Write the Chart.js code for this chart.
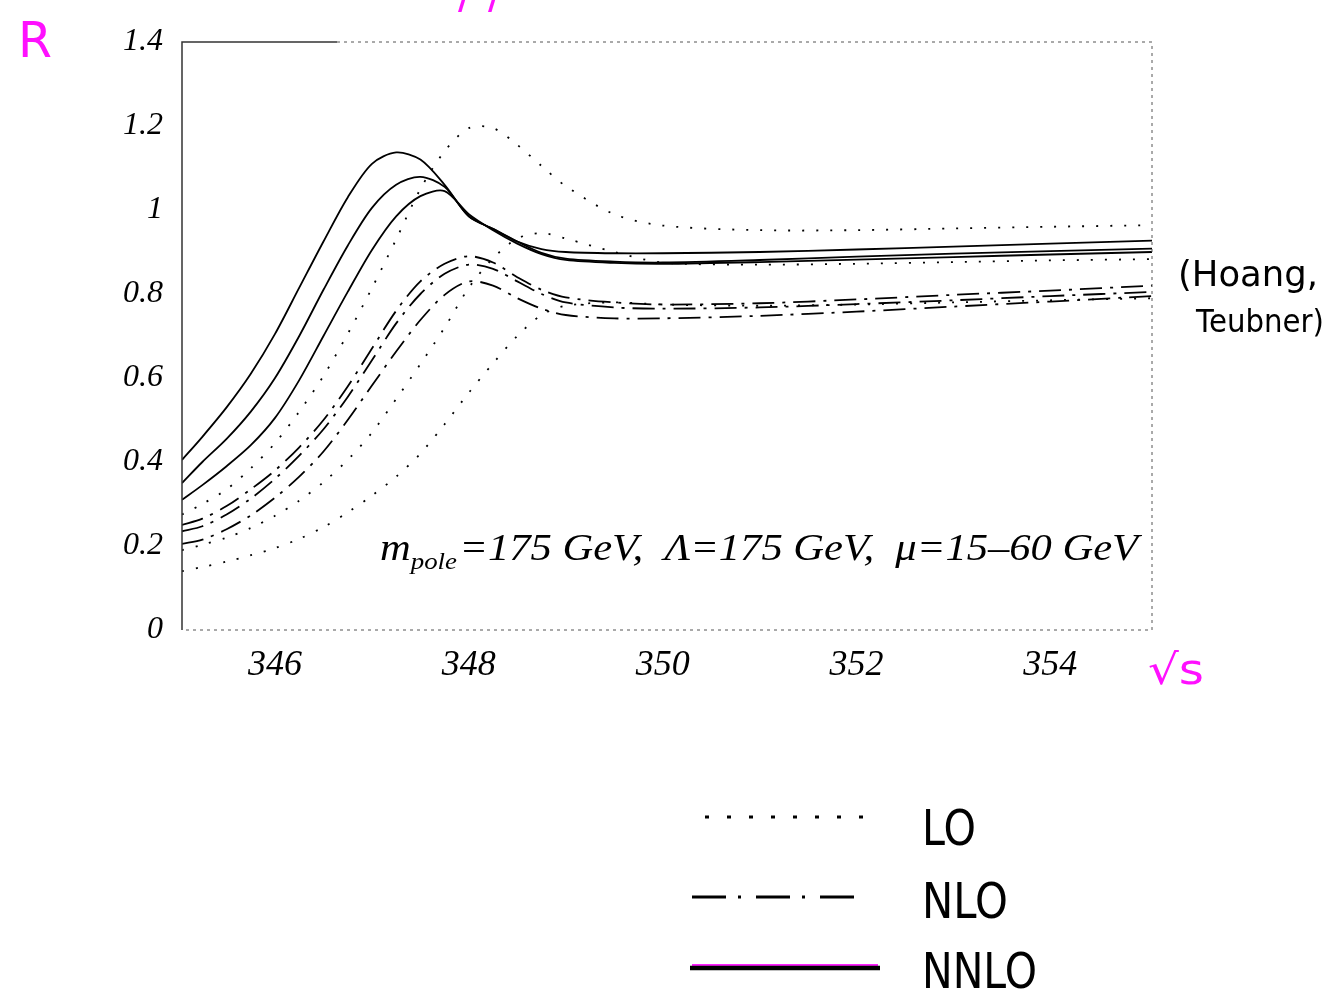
<!DOCTYPE html>
<html><head><meta charset="utf-8">
<script src="https://cdn.jsdelivr.net/npm/chart.js@4.4.0/dist/chart.umd.min.js"></script>
<style>html,body{margin:0;padding:0;background:#fff;overflow:hidden}</style>
</head><body>
<canvas id="c" width="1340" height="991"></canvas>
<script>
// ---- data ----
const energies = [345.04,345.25,345.5,345.75,346,346.25,346.5,346.75,347,347.25,347.5,347.75,348,348.25,348.5,348.75,349,349.5,350,351,352,353,354,355.05];
const nnloA = [0.405,0.46,0.53,0.61,0.705,0.815,0.925,1.03,1.11,1.137,1.12,1.06,0.985,0.955,0.925,0.907,0.90,0.897,0.897,0.900,0.906,0.913,0.920,0.927];
const nnloB = [0.35,0.40,0.455,0.52,0.60,0.70,0.81,0.915,1.005,1.06,1.079,1.055,0.985,0.955,0.925,0.898,0.884,0.877,0.875,0.881,0.889,0.896,0.902,0.908];
const nnloC = [0.31,0.345,0.39,0.44,0.505,0.595,0.70,0.805,0.905,0.985,1.033,1.045,0.99,0.952,0.92,0.895,0.881,0.874,0.872,0.876,0.882,0.888,0.894,0.90];
const nloA = [0.25,0.265,0.295,0.335,0.38,0.435,0.50,0.58,0.67,0.76,0.83,0.872,0.89,0.875,0.84,0.81,0.792,0.78,0.775,0.778,0.787,0.798,0.808,0.82];
const nloB = [0.235,0.247,0.275,0.313,0.36,0.415,0.478,0.555,0.642,0.73,0.80,0.848,0.87,0.86,0.83,0.80,0.78,0.768,0.765,0.768,0.776,0.785,0.795,0.805];
const nloC = [0.205,0.215,0.24,0.273,0.315,0.365,0.425,0.50,0.582,0.663,0.738,0.798,0.83,0.82,0.79,0.765,0.75,0.742,0.742,0.748,0.758,0.77,0.782,0.795];
const loA = [0.275,0.30,0.335,0.385,0.445,0.52,0.605,0.705,0.814,0.93,1.05,1.14,1.195,1.195,1.155,1.105,1.057,0.99,0.963,0.952,0.952,0.956,0.96,0.964];
const loB = [0.19,0.203,0.22,0.243,0.272,0.308,0.352,0.405,0.47,0.55,0.633,0.72,0.815,0.885,0.932,0.945,0.932,0.90,0.875,0.87,0.872,0.876,0.88,0.883];
const loC = [0.14,0.15,0.163,0.178,0.195,0.217,0.245,0.28,0.32,0.365,0.42,0.49,0.565,0.635,0.70,0.75,0.772,0.78,0.775,0.772,0.775,0.78,0.785,0.79];
const xTicks = [346,348,350,352,354];
const yTicks = [0,0.2,0.4,0.6,0.8,1,1.2,1.4];
const legendLabels = ['LO','NLO','NNLO'];
const noteText = ['m','pole','=175 GeV,  \u039B=175 GeV,  \u03BC=15\u201360 GeV'];

// ---- styles ----
const styles = {
  LO:   {borderDash:[2,12], borderWidth:1.8},
  NLO:  {borderDash:[22,8,3,8], borderWidth:1.8},
  NNLO: {borderDash:[], borderWidth:1.8}
};
function series(vals, order){
  return Object.assign({
    data: energies.map((e,i)=>({x:e,y:vals[i]})),
    borderColor:'#000', backgroundColor:'#000',
    pointRadius:0, fill:false, tension:0.3
  }, styles[order]);
}
const datasets = [
  series(loA,'LO'), series(loB,'LO'), series(loC,'LO'),
  series(nloA,'NLO'), series(nloB,'NLO'), series(nloC,'NLO'),
  series(nnloA,'NNLO'), series(nnloB,'NNLO'), series(nnloC,'NNLO')
];

const tickFont = {family:'"Liberation Serif", serif', style:'italic', size:32};

function fitText(ctx, txt, x, y, w){
  const m = ctx.measureText(txt).width;
  ctx.save(); ctx.translate(x, y); ctx.scale(w/m, 1); ctx.fillText(txt, 0, 0); ctx.restore();
}

const decor = {
  id:'decor',
  afterDraw(chart){
    const ctx = chart.ctx, a = chart.chartArea;
    ctx.save();
    // frame
    ctx.strokeStyle = '#333'; ctx.lineWidth = 1.5; ctx.setLineDash([]);
    ctx.beginPath(); ctx.moveTo(a.left, a.bottom); ctx.lineTo(a.left, a.top); ctx.lineTo(a.left+155, a.top); ctx.stroke();
    ctx.strokeStyle = '#555'; ctx.lineWidth = 1; ctx.setLineDash([3,4]);
    ctx.beginPath(); ctx.moveTo(a.left+155, a.top); ctx.lineTo(a.right, a.top); ctx.lineTo(a.right, a.bottom); ctx.lineTo(a.left, a.bottom); ctx.stroke();
    ctx.setLineDash([]);

    // note text
    ctx.fillStyle = '#000';
    const big = 'italic 38px "Liberation Serif", serif';
    const small = 'italic 24px "Liberation Serif", serif';
    ctx.font = big; const w1 = ctx.measureText(noteText[0]).width;
    ctx.font = small; const w2 = ctx.measureText(noteText[1]).width;
    ctx.font = big; const w3 = ctx.measureText(noteText[2]).width;
    const total = w1 + w2 + 2 + w3, target = 758, s = target/total;
    ctx.save(); ctx.translate(380, 560); ctx.scale(s, 1);
    ctx.textBaseline = 'alphabetic';
    ctx.font = big; ctx.fillText(noteText[0], 0, 0);
    ctx.font = small; ctx.fillText(noteText[1], w1, 9);
    ctx.font = big; ctx.fillText(noteText[2], w1 + w2 + 2, 0);
    ctx.restore();

    // handwritten labels
    const hand = '"DejaVu Sans", sans-serif';
    ctx.fillStyle = '#ff10ff';
    ctx.font = '50px ' + hand; fitText(ctx, 'R', 18, 57, 34);
    ctx.font = '42px ' + hand; fitText(ctx, '\u221As', 1148, 684, 56);
    ctx.fillText('/', 458, 8); ctx.fillText('/', 488, 8);
    ctx.fillStyle = '#000';
    ctx.font = '36px ' + hand; fitText(ctx, '(Hoang,', 1178, 286, 140);
    ctx.font = '32px ' + hand; fitText(ctx, 'Teubner)', 1196, 332, 128);

    // legend
    const legendY = [817, 897, 968];
    const legendX = [[705,870],[692,866],[690,880]];
    const dashes = [[4,18],[34,12,3,15],[]];
    const widths = [3,3,4.5];
    const labelBase = [845, 918, 988];
    const labelW = [54, 86, 115];
    legendLabels.forEach((lab,i)=>{
      if(i===2){
        ctx.strokeStyle = '#ff20ff'; ctx.lineWidth = 6; ctx.setLineDash([]);
        ctx.beginPath(); ctx.moveTo(legendX[i][0]+2, legendY[i]-1); ctx.lineTo(legendX[i][1]-2, legendY[i]-1); ctx.stroke();
      }
      ctx.strokeStyle = '#000'; ctx.lineWidth = widths[i]; ctx.setLineDash(dashes[i]);
      ctx.beginPath(); ctx.moveTo(legendX[i][0], legendY[i]); ctx.lineTo(legendX[i][1], legendY[i]); ctx.stroke();
      ctx.setLineDash([]);
      ctx.fillStyle = '#000';
      ctx.font = '50px ' + hand;
      fitText(ctx, lab, 922, labelBase[i], labelW[i]);
    });
    ctx.restore();
  }
};

new Chart(document.getElementById('c'), {
  type:'line',
  data:{datasets},
  plugins:[decor],
  options:{
    responsive:false, animation:false,
    layout:{padding:{left:0, top:42, right:188, bottom:0}},
    plugins:{legend:{display:false}, tooltip:{enabled:false}},
    scales:{
      x:{type:'linear', min:345.04, max:355.05,
         afterBuildTicks: sc => { sc.ticks = xTicks.map(v=>({value:v})); },
         afterFit: sc => { sc.height = 361; },
         grid:{display:false, drawTicks:false}, border:{display:false},
         ticks:{font:Object.assign({}, tickFont, {size:36}), color:'#000', padding:14, maxRotation:0,
                callback: v => String(v)}},
      y:{type:'linear', min:0, max:1.4,
         afterBuildTicks: sc => { sc.ticks = yTicks.map(v=>({value:v})); },
         afterFit: sc => { sc.width = 182; },
         grid:{display:false, drawTicks:false}, border:{display:false},
         ticks:{font:tickFont, color:'#000', padding:19,
                callback: v => String(Math.round(v*10)/10)}}
    }
  }
});
</script>
</body></html>
